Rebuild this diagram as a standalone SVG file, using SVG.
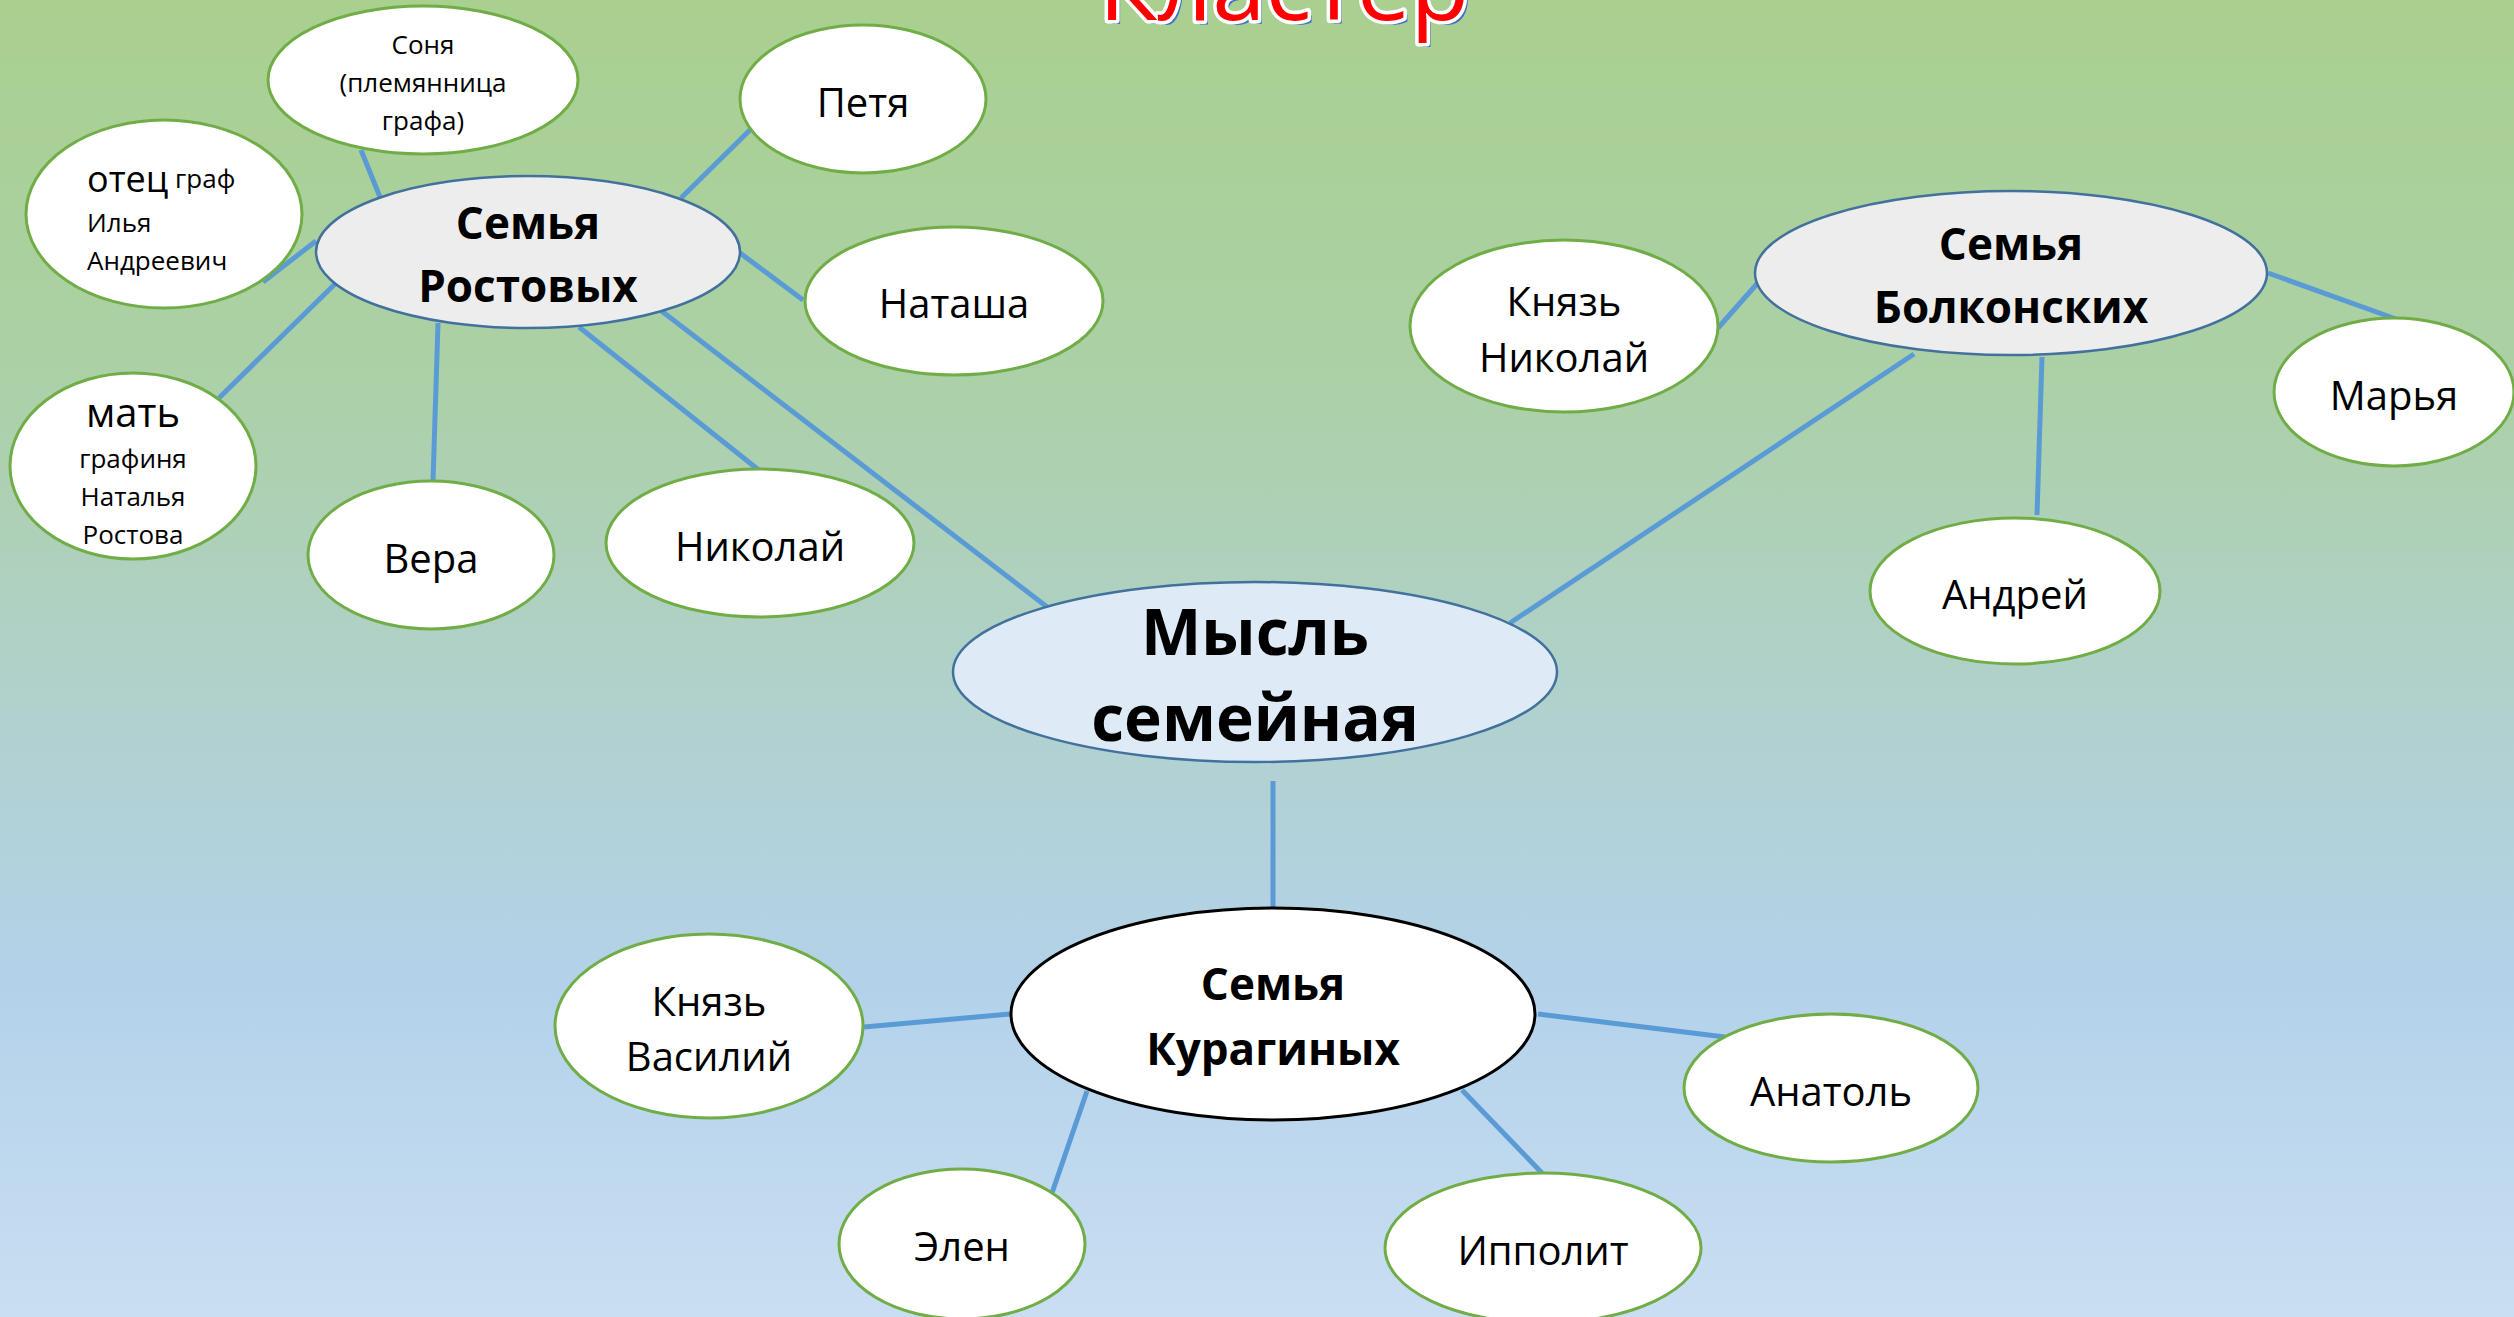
<svg xmlns="http://www.w3.org/2000/svg" width="2514" height="1317" viewBox="0 0 2514 1317">
<defs>
<linearGradient id="bg" x1="0" y1="0" x2="0" y2="1">
<stop offset="0" stop-color="#A9D08F"/>
<stop offset="0.3" stop-color="#ACD0A8"/>
<stop offset="0.55" stop-color="#B1D1CF"/>
<stop offset="0.75" stop-color="#B3D2EA"/>
<stop offset="1" stop-color="#C9DEF2"/>
</linearGradient>
<style>
.leaf{fill:#FFFFFF;stroke:#70AD47;stroke-width:3}
.fam{fill:#EDEDED;stroke:#41719C;stroke-width:2.5}
.t{font-family:"Open Sans","Liberation Sans",sans-serif;fill:#000;text-anchor:middle;dominant-baseline:central}
.n{font-size:40px}
.s{font-size:26px}
.b{font-size:44px;font-weight:bold}
.c{stroke:#5B9BD5;stroke-width:5;fill:none;stroke-linecap:butt}
</style>
</defs>
<rect x="0" y="0" width="2514" height="1317" fill="url(#bg)"/>

<g id="title">
<text x="1284" y="20" font-family="Open Sans, Liberation Sans, sans-serif" font-size="96" text-anchor="middle" fill="#4472C4" transform="translate(4,4)">Кластер</text>
<text x="1284" y="20" font-family="Open Sans, Liberation Sans, sans-serif" font-size="96" text-anchor="middle" fill="#FF0000" stroke="#FFFFFF" stroke-width="7" paint-order="stroke" stroke-linejoin="round">Кластер</text>
</g>

<g id="connectors">
<line class="c" x1="361" y1="150" x2="380" y2="197"/>
<line class="c" x1="263" y1="282" x2="316" y2="241"/>
<line class="c" x1="219" y1="398" x2="338" y2="281"/>
<line class="c" x1="438" y1="323" x2="433" y2="481"/>
<line class="c" x1="579" y1="327" x2="760" y2="471"/>
<line class="c" x1="659" y1="309" x2="1051" y2="610"/>
<line class="c" x1="681" y1="198" x2="753" y2="127"/>
<line class="c" x1="740" y1="253" x2="803" y2="300"/>
<line class="c" x1="1914" y1="354" x2="1510" y2="623"/>
<line class="c" x1="1718" y1="328" x2="1763" y2="277"/>
<line class="c" x1="2268" y1="273" x2="2396" y2="319"/>
<line class="c" x1="2042" y1="357" x2="2037" y2="515"/>
<line class="c" x1="1273" y1="781" x2="1273" y2="908"/>
<line class="c" x1="864" y1="1027" x2="1010" y2="1014"/>
<line class="c" x1="1538" y1="1014" x2="1725" y2="1037"/>
<line class="c" x1="1087" y1="1091" x2="1052" y2="1193"/>
<line class="c" x1="1462" y1="1090" x2="1543" y2="1174"/>
</g>

<g id="sonya">
<ellipse class="leaf" cx="423" cy="80" rx="155" ry="74"/>
<text class="t s" x="423" y="44">Соня</text>
<text class="t s" x="423" y="82">(племянница</text>
<text class="t s" x="423" y="120">графа)</text>
</g>

<g id="otets">
<ellipse class="leaf" cx="164" cy="214" rx="138" ry="94"/>
<text class="t" x="87" y="178" text-anchor="start" style="text-anchor:start"><tspan font-size="36">отец</tspan><tspan font-size="26"> граф</tspan></text>
<text class="t s" x="87" y="222" style="text-anchor:start">Илья</text>
<text class="t s" x="87" y="260" style="text-anchor:start">Андреевич</text>
</g>

<g id="rostovy">
<ellipse class="fam" cx="528" cy="252" rx="212" ry="76"/>
<text class="t b" x="528" y="222">Семья</text>
<text class="t b" x="528" y="285">Ростовых</text>
</g>

<g id="mat">
<ellipse class="leaf" cx="133" cy="466" rx="123" ry="93"/>
<text class="t" x="133" y="411" font-size="40">мать</text>
<text class="t s" x="133" y="458">графиня</text>
<text class="t s" x="133" y="496">Наталья</text>
<text class="t s" x="133" y="534">Ростова</text>
</g>

<g id="vera">
<ellipse class="leaf" cx="431" cy="555" rx="123" ry="74"/>
<text class="t n" x="431" y="557">Вера</text>
</g>

<g id="nikolay">
<ellipse class="leaf" cx="760" cy="543" rx="154" ry="74"/>
<text class="t n" x="760" y="545">Николай</text>
</g>

<g id="petya">
<ellipse class="leaf" cx="863" cy="99" rx="123" ry="74"/>
<text class="t n" x="863" y="101">Петя</text>
</g>

<g id="natasha">
<ellipse class="leaf" cx="954" cy="301" rx="149" ry="74"/>
<text class="t n" x="954" y="302">Наташа</text>
</g>

<g id="mysl">
<ellipse cx="1255" cy="672" rx="302" ry="90" fill="#DEEBF7" stroke="#41719C" stroke-width="2.5"/>
<text class="t" x="1255" y="630" font-size="64" font-weight="bold">Мысль</text>
<text class="t" x="1255" y="716" font-size="64" font-weight="bold">семейная</text>
</g>

<g id="bolkonskie">
<ellipse class="fam" cx="2011" cy="273" rx="256" ry="82"/>
<text class="t b" x="2011" y="243">Семья</text>
<text class="t b" x="2011" y="306">Болконских</text>
</g>

<g id="knyaz-nikolay">
<ellipse class="leaf" cx="1564" cy="326" rx="154" ry="86"/>
<text class="t n" x="1564" y="300">Князь</text>
<text class="t n" x="1564" y="356">Николай</text>
</g>

<g id="marya">
<ellipse class="leaf" cx="2394" cy="392" rx="120" ry="74"/>
<text class="t n" x="2394" y="394">Марья</text>
</g>

<g id="andrey">
<ellipse class="leaf" cx="2015" cy="591" rx="145" ry="73"/>
<text class="t n" x="2015" y="593">Андрей</text>
</g>

<g id="kuraginy">
<ellipse cx="1273" cy="1014" rx="262" ry="106" fill="#FFFFFF" stroke="#000000" stroke-width="3"/>
<text class="t b" x="1273" y="983">Семья</text>
<text class="t b" x="1273" y="1048">Курагиных</text>
</g>

<g id="vasiliy">
<ellipse class="leaf" cx="709" cy="1026" rx="154" ry="92"/>
<text class="t n" x="709" y="1000">Князь</text>
<text class="t n" x="709" y="1055">Василий</text>
</g>

<g id="elen">
<ellipse class="leaf" cx="962" cy="1244" rx="123" ry="75"/>
<text class="t n" x="962" y="1245">Элен</text>
</g>

<g id="ippolit">
<ellipse class="leaf" cx="1543" cy="1248" rx="158" ry="75"/>
<text class="t n" x="1543" y="1249">Ипполит</text>
</g>

<g id="anatol">
<ellipse class="leaf" cx="1831" cy="1088" rx="147" ry="74"/>
<text class="t n" x="1831" y="1090">Анатоль</text>
</g>
</svg>
